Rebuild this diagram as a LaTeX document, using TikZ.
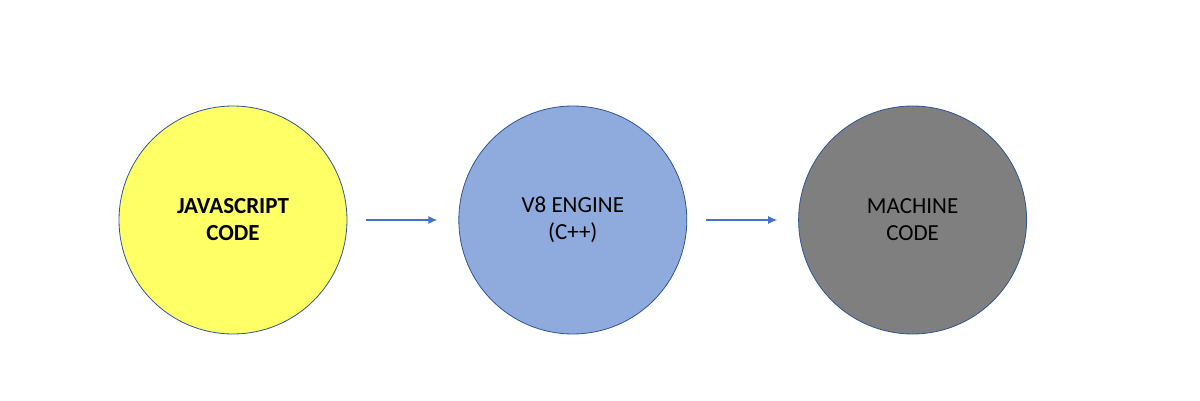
\documentclass[tikz,border=0pt]{standalone}
\usepackage{fontspec}
\setmainfont{Carlito}
\usepackage{xcolor}
\usetikzlibrary{positioning}
\usetikzlibrary{arrows.meta}
\definecolor{jsyellow}{HTML}{FFFF66}
\definecolor{v8blue}{HTML}{8FAADC}
\definecolor{mcgray}{HTML}{7F7F7F}
\definecolor{rimblue}{HTML}{2F5597}
\definecolor{arrowblue}{HTML}{4472C4}
\tikzset{edge/.style = {-{Latex[length=9pt,width=8pt]}, arrowblue, line width=1.2pt, shorten <=19pt, shorten >=21pt}}

\begin{document}
\begin{tikzpicture}[x=1pt,y=-1pt,node distance=111pt,main node/.style={circle,draw=rimblue,line width=0.8pt,minimum size=228pt,inner sep=0pt,align=center,font=\fontsize{23}{27}\selectfont}]
            \useasboundingbox (0,0) rectangle (1200,401);
            \node[main node,fill=jsyellow] (js) at (233,220) {\bfseries JAVASCRIPT\\\bfseries CODE};
            \node[main node,fill=v8blue] (v8) [right=of js] {V8 ENGINE\\(C++)};
            \node[main node,fill=mcgray] (mc) [right=of v8] {MACHINE\\CODE};

            \path (js) edge[edge] (v8);
            \path (v8) edge[edge] (mc);
        \end{tikzpicture}
\end{document}
